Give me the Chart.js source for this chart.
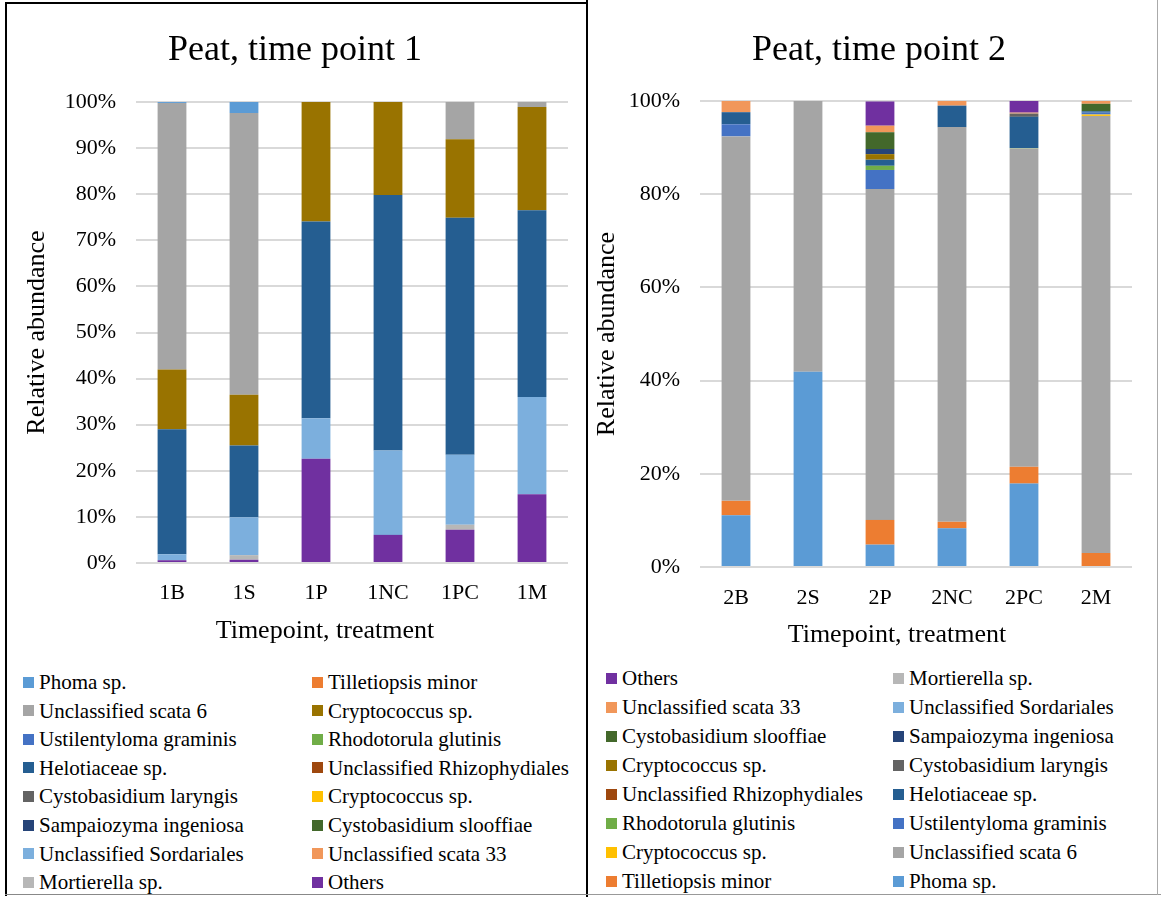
<!DOCTYPE html>
<html>
<head>
<meta charset="utf-8">
<title>Peat, time point 1 and 2</title>
<script src="https://cdn.jsdelivr.net/npm/chart.js@4.4.1/dist/chart.umd.min.js"></script>
<style>
  body { margin: 0; background: #fff; font-family: "Liberation Serif", "Times New Roman", serif; color: #000; }
  #wrap { position: relative; width: 1161px; height: 897px; overflow: hidden; }
  canvas { position: absolute; top: 0; }
  .title { position: absolute; width: 500px; text-align: center; font-size: 36px; line-height: 36px; white-space: nowrap; }
  .xtitle { position: absolute; width: 400px; text-align: center; font-size: 26px; line-height: 26px; white-space: nowrap; }
  .item { position: absolute; height: 24px; line-height: 24px; font-size: 21px; display: flex; align-items: center; white-space: nowrap; }
  .item span { width: 11px; height: 11px; margin-right: 5px; flex: none; }
  .line { position: absolute; }
</style>
</head>
<body>
<div id="wrap">
  <canvas id="chart1" width="587" height="660" style="left:0; width:587px; height:660px"></canvas>
  <canvas id="chart2" width="574" height="660" style="left:587px; width:574px; height:660px"></canvas>

  <div class="title" style="left:45px; top:30px">Peat, time point 1</div>
  <div class="title" style="left:629px; top:30px">Peat, time point 2</div>
  <div class="xtitle" style="left:125px; top:617px">Timepoint, treatment</div>
  <div class="xtitle" style="left:697px; top:621px">Timepoint, treatment</div>

  <div id="legend1"></div>
  <div id="legend2"></div>

  <div class="line" style="left:5px; top:2px; width:583px; height:2px; background:#000"></div>
  <div class="line" style="left:5px; top:2px; width:2px; height:894px; background:#000"></div>
  <div class="line" style="left:586px; top:0; width:2px; height:897px; background:#000"></div>
  <div class="line" style="left:5px; top:894px; width:582px; height:1px; background:#888"></div>
  <div class="line" style="left:587px; top:894px; width:574px; height:1px; background:#999"></div>
  <div class="line" style="left:1157px; top:0; width:1px; height:895px; background:#aaa"></div>
</div>

<script>
const labels1 = ["1B", "1S", "1P", "1NC", "1PC", "1M"];
const labels2 = ["2B", "2S", "2P", "2NC", "2PC", "2M"];

// names and colours in the order of each chart's series
const names1 = ["Phoma sp.", "Tilletiopsis minor", "Unclassified scata 6", "Cryptococcus sp.", "Ustilentyloma graminis", "Rhodotorula glutinis", "Helotiaceae sp.", "Unclassified Rhizophydiales", "Cystobasidium laryngis", "Cryptococcus sp.", "Sampaiozyma ingeniosa", "Cystobasidium slooffiae", "Unclassified Sordariales", "Unclassified scata 33", "Mortierella sp.", "Others"];
const colors1 = ["#5B9BD5", "#ED7D31", "#A5A5A5", "#997300", "#4472C4", "#70AD47", "#255E91", "#9E480E", "#636363", "#FFC000", "#264478", "#43682B", "#7CAFDD", "#F1975A", "#B7B7B7", "#7030A0"];

const names2 = ["Phoma sp.", "Tilletiopsis minor", "Unclassified scata 6", "Cryptococcus sp.", "Ustilentyloma graminis", "Rhodotorula glutinis", "Helotiaceae sp.", "Unclassified Rhizophydiales", "Cystobasidium laryngis", "Cryptococcus sp.", "Sampaiozyma ingeniosa", "Cystobasidium slooffiae", "Unclassified Sordariales", "Unclassified scata 33", "Mortierella sp.", "Others"];
const colors2 = ["#5B9BD5", "#ED7D31", "#A5A5A5", "#FFC000", "#4472C4", "#70AD47", "#255E91", "#9E480E", "#636363", "#997300", "#264478", "#43682B", "#7CAFDD", "#F1975A", "#B7B7B7", "#7030A0"];

// time point 1, relative abundance (%)
const phoma1 = [0.2, 2.4, 0, 0, 0, 0];
const tilletiopsis1 = [0, 0, 0, 0, 0, 0];
const scata6_1 = [57.8, 61.1, 0, 0, 8.1, 1.1];
const cryptoBrown1 = [13.0, 11.0, 25.9, 20.2, 17.0, 22.4];
const ustilentyloma1 = [0, 0, 0, 0, 0, 0];
const rhodotorula1 = [0, 0, 0, 0, 0, 0];
const helotiaceae1 = [27.1, 15.6, 42.7, 55.4, 51.4, 40.5];
const rhizophydiales1 = [0, 0, 0, 0, 0, 0];
const laryngis1 = [0, 0, 0, 0, 0, 0];
const cryptoYellow1 = [0, 0, 0, 0, 0, 0];
const sampaiozyma1 = [0, 0, 0, 0, 0, 0];
const slooffiae1 = [0, 0, 0, 0, 0, 0];
const sordariales1 = [1.3, 8.2, 8.8, 18.3, 15.2, 21.1];
const scata33_1 = [0, 0, 0, 0, 0, 0];
const mortierella1 = [0, 1.0, 0, 0, 1.1, 0];
const others1 = [0.6, 0.7, 22.6, 6.1, 7.2, 14.9];

// time point 2, relative abundance (%)
const phoma2 = [11.1, 41.9, 4.8, 8.3, 17.9, 0];
const tilletiopsis2 = [3.1, 0, 5.3, 1.4, 3.6, 3.0];
const scata6_2 = [78.2, 58.1, 71.0, 84.7, 68.3, 93.8];
const cryptoYellow2 = [0, 0, 0, 0, 0, 0.3];
const ustilentyloma2 = [2.6, 0, 4.1, 0, 0, 0.4];
const rhodotorula2 = [0, 0, 0.9, 0, 0.1, 0];
const helotiaceae2 = [2.6, 0, 1.3, 4.6, 6.7, 0.3];
const rhizophydiales2 = [0, 0, 0, 0, 0, 0];
const laryngis2 = [0, 0, 0, 0, 0.7, 0];
const cryptoBrown2 = [0, 0, 1.2, 0, 0, 0];
const sampaiozyma2 = [0, 0, 1.1, 0, 0, 0];
const slooffiae2 = [0, 0, 3.6, 0, 0, 1.6];
const sordariales2 = [0, 0, 0, 0, 0, 0];
const scata33_2 = [2.4, 0, 1.4, 1.0, 0.2, 0.6];
const mortierella2 = [0, 0, 0, 0, 0, 0];
const others2 = [0, 0, 5.2, 0, 2.5, 0];

const values1 = [phoma1, tilletiopsis1, scata6_1, cryptoBrown1, ustilentyloma1, rhodotorula1, helotiaceae1, rhizophydiales1, laryngis1, cryptoYellow1, sampaiozyma1, slooffiae1, sordariales1, scata33_1, mortierella1, others1];
const values2 = [phoma2, tilletiopsis2, scata6_2, cryptoYellow2, ustilentyloma2, rhodotorula2, helotiaceae2, rhizophydiales2, laryngis2, cryptoBrown2, sampaiozyma2, slooffiae2, sordariales2, scata33_2, mortierella2, others2];

const serif = "'Liberation Serif', 'Times New Roman', serif";

function drawChart(id, labels, names, colors, values, step, geo) {
  const datasets = names.map((name, i) => ({
    label: name,
    data: values[i],
    backgroundColor: colors[i],
    borderWidth: 0,
    barPercentage: 0.4,
    categoryPercentage: 1
  }));
  // first series sits at the bottom of the stack in Chart.js
  if (geo.reverse) datasets.reverse();

  return new Chart(document.getElementById(id), {
    type: "bar",
    data: { labels, datasets },
    options: {
      responsive: false,
      animation: false,
      layout: { padding: geo.padding },
      plugins: {
        legend: { display: false },
        tooltip: { enabled: false },
        title: { display: false }
      },
      scales: {
        x: {
          stacked: true,
          grid: { display: false },
          border: { display: false },
          ticks: { color: "#000", font: { family: serif, size: 22 }, padding: geo.xPad, maxRotation: 0 },
          afterFit: s => { s.height = geo.xHeight; }
        },
        y: {
          stacked: true,
          min: 0,
          max: 100,
          grid: { color: "#d9d9d9", lineWidth: 2, drawTicks: false },
          border: { display: false },
          ticks: { stepSize: step, color: "#000", font: { family: serif, size: 22 }, padding: 20, callback: v => v + "%" },
          title: { display: true, text: "Relative abundance", color: "#000", font: { family: serif, size: 26 }, padding: 0 },
          afterFit: s => { s.width = geo.yWidth; }
        }
      }
    }
  });
}

function buildLegend(id, names, colors, order, pos) {
  const box = document.getElementById(id);
  order.forEach((k, n) => {
    const item = document.createElement("div");
    item.className = "item";
    item.style.left = pos.cols[n % 2] + "px";
    item.style.top = (pos.top + Math.floor(n / 2) * pos.step - 12) + "px";
    const sw = document.createElement("span");
    sw.style.background = colors[k];
    item.appendChild(sw);
    item.appendChild(document.createTextNode(names[k]));
    box.appendChild(item);
  });
}

drawChart("chart1", labels1, names1, colors1, values1, 10, {
  reverse: true,
  padding: { left: 22, right: 19, top: 102, bottom: 0 },
  yWidth: 114, xHeight: 97, xPad: 9
});
drawChart("chart2", labels2, names2, colors2, values2, 20, {
  reverse: false,
  padding: { left: 5, right: 29, top: 101, bottom: 0 },
  yWidth: 108, xHeight: 93, xPad: 10
});

const order1 = names1.map((n, i) => i);
const order2 = names2.map((n, i) => i).reverse();
buildLegend("legend1", names1, colors1, order1, { cols: [23, 312], top: 682, step: 28.6 });
buildLegend("legend2", names2, colors2, order2, { cols: [606, 893], top: 678, step: 29 });
</script>
</body>
</html>
